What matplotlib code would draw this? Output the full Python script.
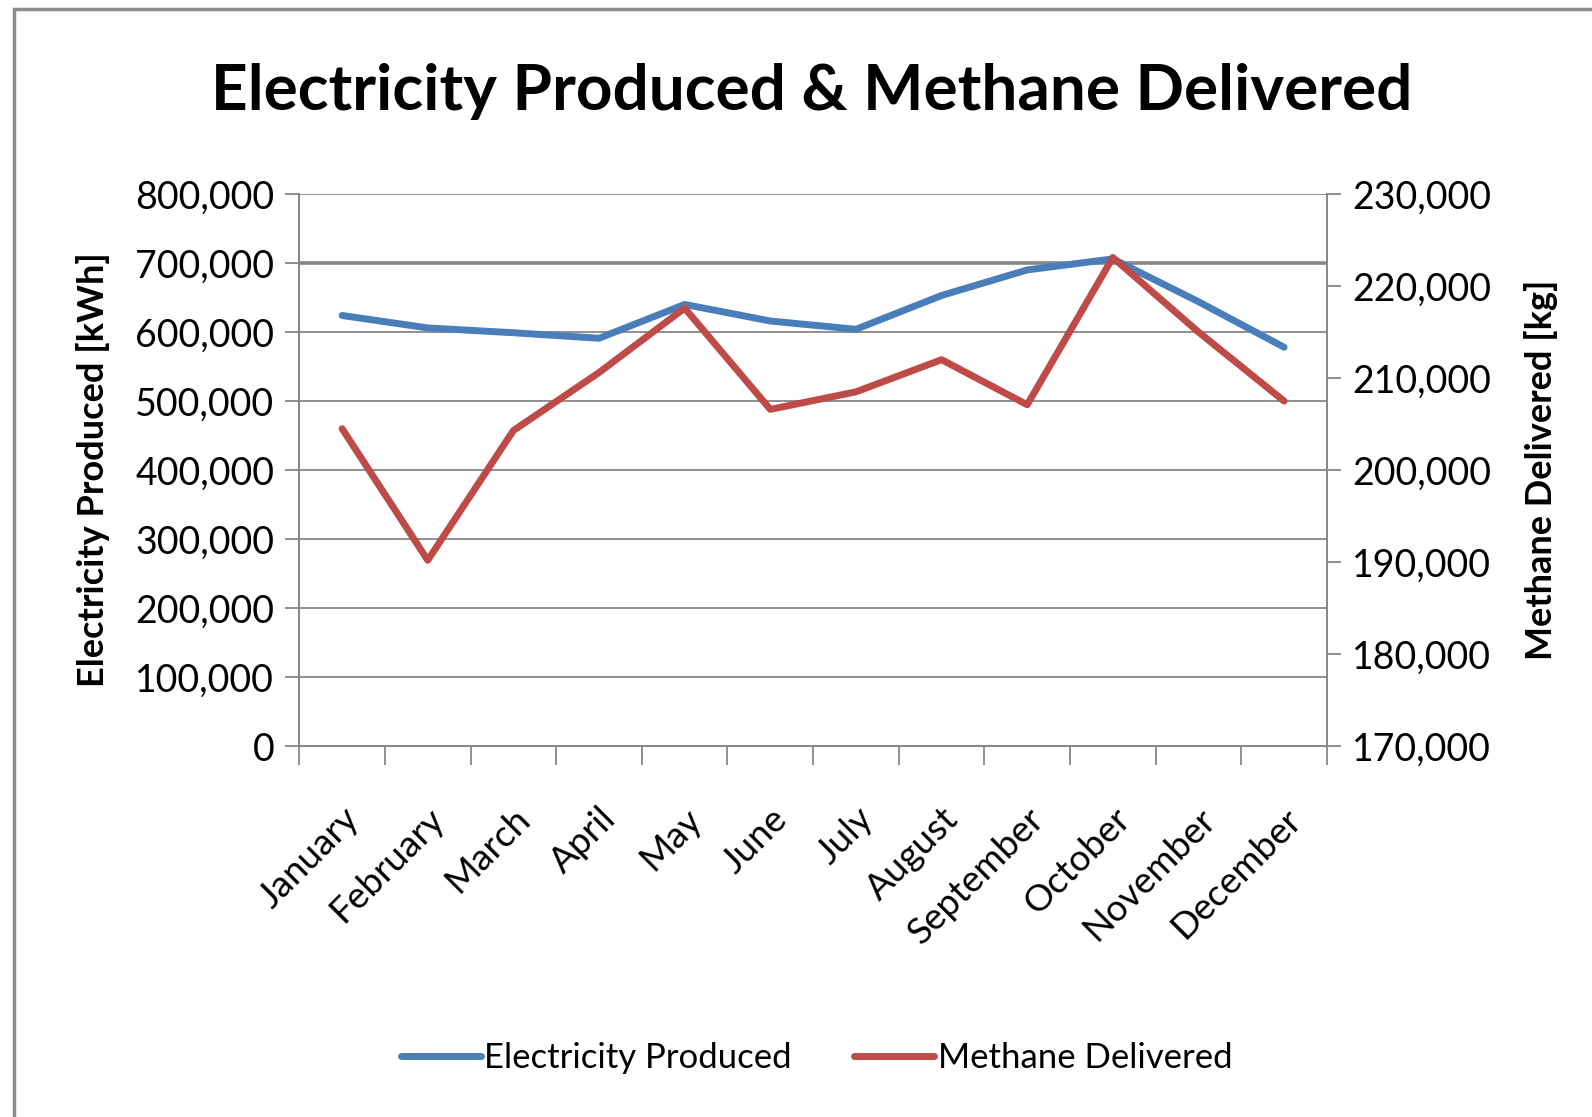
import matplotlib
matplotlib.use('Agg')
import matplotlib.pyplot as plt
import matplotlib.patches as mpatches
from matplotlib.ticker import FuncFormatter, FixedLocator

# --- data ---
months = ['January', 'February', 'March', 'April', 'May', 'June', 'July',
          'August', 'September', 'October', 'November', 'December']
electricity = [624000, 606000, 599000, 591000, 640000, 616000, 604000,
               653000, 690000, 706000, 644000, 578000]
methane = [204500, 190200, 204300, 210600, 217600, 206600, 208500,
           212000, 207100, 223100, 215000, 207500]

BLUE = '#4A7EBB'
RED = '#BE4B48'
GRID = '#878787'
FONT = ['Lato', 'DejaVu Sans']

plt.rcParams['font.family'] = FONT

fig = plt.figure(figsize=(15.92, 11.17), dpi=100)
fig.patch.set_facecolor('white')
ax = fig.add_axes([0.188, 0.332, 0.6455, 0.4943])
ax2 = ax.twinx()

x = list(range(len(months)))
ax.plot(x, electricity, color=BLUE, lw=5, solid_capstyle='round',
        solid_joinstyle='round', zorder=3, label='Electricity Produced')
ax2.plot(x, methane, color=RED, lw=5, solid_capstyle='round',
         solid_joinstyle='round', zorder=3, label='Methane Delivered')

ax.set_xlim(-0.5, len(months) - 0.5)
ax.set_ylim(0, 800000)
ax2.set_ylim(170000, 230000)

fmt = FuncFormatter(lambda v, p: f'{int(v):,}')
ax.set_yticks(range(0, 800001, 100000))
ax.yaxis.set_major_formatter(fmt)
ax2.set_yticks(range(170000, 230001, 10000))
ax2.yaxis.set_major_formatter(fmt)

# gridlines on the left scale
for v in range(100000, 800001, 100000):
    ax.axhline(v, color=GRID, lw=2.6 if v == 700000 else 1.3, zorder=1)

# category labels between boundary ticks
ax.set_xticks(x)
ax.set_xticklabels(months, rotation=45, ha='right', rotation_mode='anchor',
                   fontsize=26.5)
ax.tick_params(axis='x', which='major', length=0, pad=40)
ax.xaxis.set_minor_locator(FixedLocator([i - 0.5 for i in range(len(months) + 1)]))
ax.tick_params(axis='x', which='minor', length=14, width=1.3, color=GRID)

ax.tick_params(axis='y', length=10, width=1.3, color=GRID, labelsize=27, pad=8)
ax2.tick_params(axis='y', length=10, width=1.3, color=GRID, labelsize=27, pad=8)

for a in (ax, ax2):
    a.spines['top'].set_visible(False)
    for s in ('left', 'right', 'bottom'):
        a.spines[s].set_color(GRID)
        a.spines[s].set_linewidth(1.3)

ax.set_ylabel('Electricity Produced [kWh]', fontsize=26, fontweight='bold',
              labelpad=18)
ax2.set_ylabel('Methane Delivered [kg]', fontsize=26, fontweight='bold',
               labelpad=24, rotation=90)

fig.text(0.510, 0.918, 'Electricity Produced & Methane Delivered',
         ha='center', va='center', fontsize=46, fontweight='bold')

h1, l1 = ax.get_legend_handles_labels()
h2, l2 = ax2.get_legend_handles_labels()
fig.legend(h1 + h2, l1 + l2, loc='center', bbox_to_anchor=(0.513, 0.053),
           ncol=2, frameon=False, fontsize=25, handlelength=2.3,
           handletextpad=0.1, columnspacing=1.8)

# outer chart frame
fig.patches.append(mpatches.Rectangle((14 / 1592, -0.05), 1.2, 1.05 - 9 / 1117,
                                      transform=fig.transFigure, fill=False,
                                      edgecolor='#8c8c8c', lw=2.5))

fig.savefig('out.png', dpi=100, facecolor='white')
